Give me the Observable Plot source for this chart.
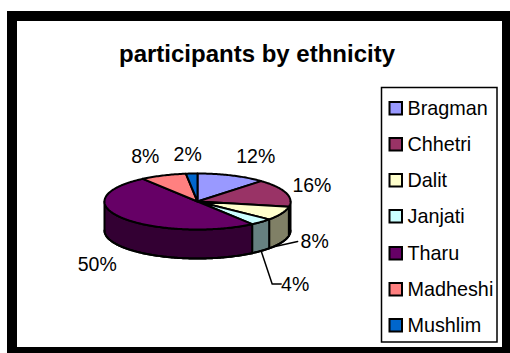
<!DOCTYPE html>
<html>
<head>
<meta charset="utf-8">
<script src="https://cdn.jsdelivr.net/npm/d3@7"></script>
<script src="https://cdn.jsdelivr.net/npm/@observablehq/plot@0.6"></script>
<style>
  html, body { margin: 0; padding: 0; background: #fff; }
  svg { display: block; }
</style>
</head>
<body>
<div id="chart"></div>
<script>
// Participants by ethnicity, in percent
const categories = ["Bragman", "Chhetri", "Dalit", "Janjati", "Tharu", "Madheshi", "Mushlim"];
const shares = [12, 16, 8, 4, 50, 8, 2];
const topColors = ["#9999ff", "#993366", "#ffffcc", "#ccffff", "#660066", "#ff8080", "#0066cc"];
const sideColors = ["#4d4d80", "#4d1933", "#808066", "#668080", "#330033", "#804040", "#003366"];

// Tilted pie geometry
const W = 510, H = 353;
const cx = 197, cy = 201, rx = 93, ry = 28, depth = 29;
const font = "Liberation Sans, Arial, sans-serif";

// Label offsets from each slice's rim point
const labelDx = [24, 26, 33, 34, -25, -18, -4];
const labelDy = [-19, -7, 28, 63, 47, -19, -19];

// Legend layout
const legendRows = [108, 144, 180, 216, 253, 289, 325];

const rim = (deg, drop = 0) => {
  const a = deg * Math.PI / 180;
  return [cx + rx * Math.sin(a), cy - ry * Math.cos(a) + drop];
};
const arc = (a0, a1, drop = 0) => {
  const n = Math.max(1, Math.ceil(Math.abs(a1 - a0)));
  return d3.range(n + 1).map(i => rim(a0 + (a1 - a0) * i / n, drop));
};

let running = 0;
const slices = categories.map((name, i) => {
  const start = running * 3.6;
  running += shares[i];
  const end = running * 3.6;
  return {name, share: shares[i], top: topColors[i], side: sideColors[i], start, end, mid: (start + end) / 2, i};
});

// Only the front half of the wall is visible
const walls = slices.flatMap(s => {
  const a0 = Math.max(s.start, 90), a1 = Math.min(s.end, 270);
  if (a1 <= a0) return [];
  const pts = [...arc(a0, a1), ...arc(a1, a0, depth)];
  pts.push(pts[0]);
  return [Plot.line(pts, {x: d => d[0], y: d => d[1], fill: s.side, stroke: "#000", strokeWidth: 2})];
});
const baseEdge = Plot.line(arc(90, 270, depth), {x: d => d[0], y: d => d[1], stroke: "#000", strokeWidth: 2});

const faces = slices.map(s => {
  const pts = [[cx, cy], ...arc(s.start, s.end), [cx, cy]];
  return Plot.line(pts, {x: d => d[0], y: d => d[1], fill: s.top, stroke: "#000", strokeWidth: 2});
});

const labels = slices.map(s => {
  const [x, y] = rim(s.mid);
  return {x: x + labelDx[s.i], y: y + labelDy[s.i], text: `${s.share}%`};
});

// Leader lines for the two slices whose labels sit away from the pie
const dalitFrom = rim(slices[2].mid, depth);
const janjatiFrom = rim(slices[3].mid, depth);
const dalitLeader = [[dalitFrom[0] - 11, dalitFrom[1] + 5], [labels[2].x - 17, labels[2].y]];
const janjatiLeader = [janjatiFrom, [labels[3].x - 23, labels[3].y - 1], [labels[3].x - 14, labels[3].y - 1]];

const legend = slices.map(s => ({...s, y: legendRows[s.i]}));

const plot = Plot.plot({
  width: W, height: H, margin: 0,
  x: {domain: [0, W], range: [0, W], axis: null},
  y: {domain: [0, H], range: [0, H], axis: null},
  style: {background: "#fff"},
  marks: [
    // Picture frame
    Plot.rect([0], {x1: 7, x2: W, y1: 11, y2: H, fill: "#000"}),
    Plot.rect([0], {x1: 17, x2: 502, y1: 21, y2: 347, fill: "#fff"}),
    Plot.text(["participants by ethnicity"], {
      x: 256.5, y: 54, text: d => d, fontSize: 24, fontWeight: "bold",
      fontFamily: font, fill: "#000", textAnchor: "middle"
    }),
    Plot.line(dalitLeader, {x: d => d[0], y: d => d[1], stroke: "#000", strokeWidth: 1.5}),
    Plot.line(janjatiLeader, {x: d => d[0], y: d => d[1], stroke: "#000", strokeWidth: 1.5}),
    ...walls,
    baseEdge,
    ...faces,
    Plot.text(labels, {
      x: "x", y: "y", text: "text", fontSize: 19.5, fontFamily: font,
      fill: "#000", textAnchor: "middle", lineAnchor: "middle"
    }),
    // Legend box
    Plot.rect([0], {x1: 381.5, x2: 497, y1: 87.5, y2: 342, fill: "#fff", stroke: "#000", strokeWidth: 1.5}),
    Plot.rect(legend, {
      x1: 389.5, x2: 402, y1: d => d.y - 6, y2: d => d.y + 6.5,
      fill: "top", stroke: "#000", strokeWidth: 2
    }),
    Plot.text(legend, {
      x: 407, y: "y", text: "name", fontSize: 19.8, fontFamily: font, fill: "#000",
      textAnchor: "start", lineAnchor: "middle"
    })
  ]
});
document.getElementById("chart").append(plot);
</script>
</body>
</html>
